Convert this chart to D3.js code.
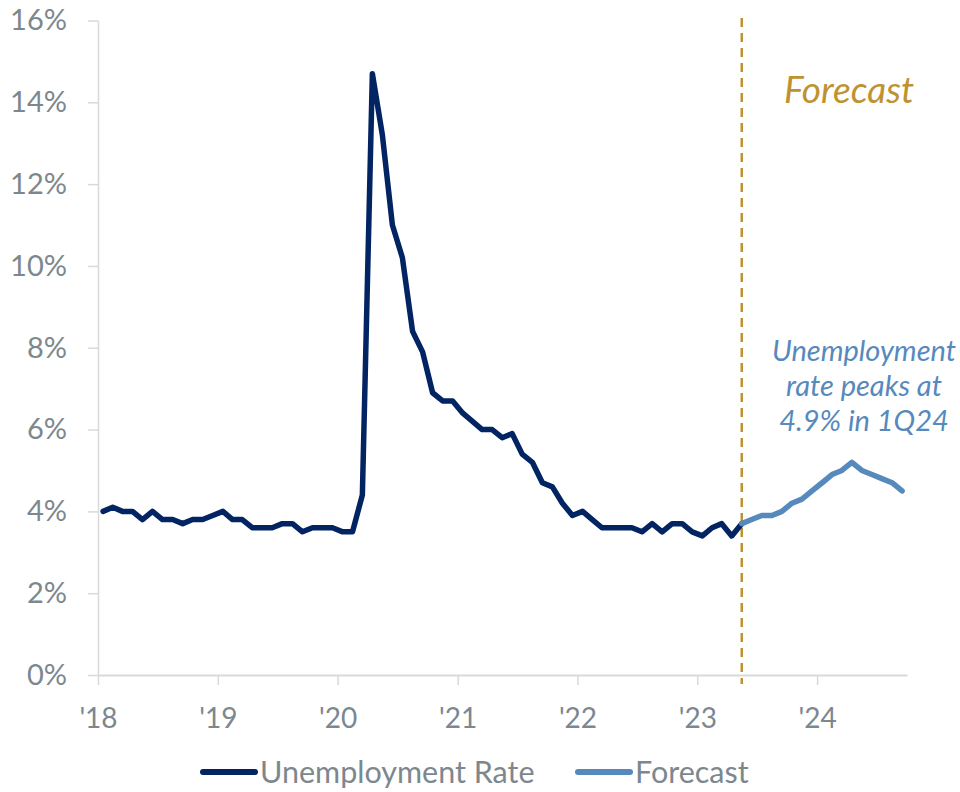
<!DOCTYPE html>
<html>
<head>
<meta charset="utf-8">
<script src="https://cdn.jsdelivr.net/npm/d3@7"></script>
<style>
  html, body { margin: 0; padding: 0; background: #ffffff; }
  svg { display: block; }
  text { font-family: Lato, "Open Sans", sans-serif; }
</style>
</head>
<body>
<svg id="chart" width="960" height="792"></svg>
<script>
// Monthly unemployment rate (%), Jan 2018 – May 2023
const actualStart = "2018-01";
const actualValues = [
  4.0, 4.1, 4.0, 4.0, 3.8, 4.0, 3.8, 3.8, 3.7, 3.8, 3.8, 3.9,
  4.0, 3.8, 3.8, 3.6, 3.6, 3.6, 3.7, 3.7, 3.5, 3.6, 3.6, 3.6,
  3.5, 3.5, 4.4, 14.7, 13.2, 11.0, 10.2, 8.4, 7.9, 6.9, 6.7, 6.7,
  6.4, 6.2, 6.0, 6.0, 5.8, 5.9, 5.4, 5.2, 4.7, 4.6, 4.2, 3.9,
  4.0, 3.8, 3.6, 3.6, 3.6, 3.6, 3.5, 3.7, 3.5, 3.7, 3.7, 3.5,
  3.4, 3.6, 3.7, 3.4, 3.7
];

// Forecast path (%), May 2023 – Sep 2024
const forecastStart = "2023-05";
const forecastValues = [
  3.7, 3.8, 3.9, 3.9, 4.0, 4.2, 4.3, 4.5,
  4.7, 4.9, 5.0, 5.2, 5.0, 4.9, 4.8, 4.7, 4.5
];

const yTicks = [0, 2, 4, 6, 8, 10, 12, 14, 16];
const yearTicks = ["2018", "2019", "2020", "2021", "2022", "2023", "2024"];
const seriesNames = ["Unemployment Rate", "Forecast"];
const forecastLabel = "Forecast";
const noteLines = ["Unemployment", "rate peaks at", "4.9% in 1Q24"];

const colors = { actual: "#022462", forecast: "#5689bc", divider: "#bf9231",
                 text: "#7d878e", axis: "#d9d9d9" };

const parseMonth = d3.timeParse("%Y-%m");
const toSeries = (start, values) => values.map((v, i) => ({
  month: d3.timeMonth.offset(parseMonth(start), i), value: v
}));
const actual = toSeries(actualStart, actualValues);
const forecast = toSeries(forecastStart, forecastValues);

const svg = d3.select("#chart");

const x = d3.scaleTime()
  .domain([parseMonth("2018-01"), parseMonth("2024-10")])
  .range([98, 907]);
const y = d3.scaleLinear().domain([0, 16]).range([675, 20.5]);

// points sit in the middle of their month
const xMid = m => (x(m) + x(d3.timeMonth.offset(m, 1))) / 2;

// y axis
const yAxis = svg.append("g")
  .attr("transform", `translate(${x.range()[0]},0)`)
  .call(d3.axisLeft(y).tickValues(yTicks).tickFormat(d => d + "%")
        .tickSize(10).tickSizeOuter(0).tickPadding(21));
yAxis.select(".domain").attr("stroke", colors.axis).attr("stroke-width", 1.5);
yAxis.selectAll(".tick line").attr("stroke", colors.axis).attr("stroke-width", 1.5);
yAxis.selectAll(".tick text").attr("fill", colors.text)
  .style("font-size", "29px").style("font-family", "Lato, sans-serif");

// x axis
const xAxis = svg.append("g")
  .attr("transform", `translate(0,${y(0)})`)
  .call(d3.axisBottom(x).tickValues(yearTicks.map(d => d3.timeParse("%Y")(d)))
        .tickFormat(d3.timeFormat("'%y")).tickSize(10).tickSizeOuter(0));
xAxis.select(".domain").attr("stroke", colors.axis).attr("stroke-width", 2);
xAxis.selectAll(".tick line").attr("stroke", colors.axis).attr("stroke-width", 1.5);
xAxis.selectAll(".tick text").attr("fill", colors.text)
  .attr("y", 53).attr("dy", 0)
  .style("font-size", "28px").style("font-family", "Lato, sans-serif");

// forecast divider
const divX = xMid(forecast[0].month);
svg.append("line")
  .attr("x1", divX).attr("x2", divX)
  .attr("y1", 18).attr("y2", 684)
  .attr("stroke", colors.divider).attr("stroke-width", 2.5)
  .attr("stroke-dasharray", "9,6");

const line = d3.line().x(d => xMid(d.month)).y(d => y(d.value));

svg.append("path").datum(actual)
  .attr("d", line).attr("fill", "none")
  .attr("stroke", colors.actual).attr("stroke-width", 5.5)
  .attr("stroke-linejoin", "round").attr("stroke-linecap", "round");

svg.append("path").datum(forecast)
  .attr("d", line).attr("fill", "none")
  .attr("stroke", colors.forecast).attr("stroke-width", 5.5)
  .attr("stroke-linejoin", "round").attr("stroke-linecap", "round");

// annotations
svg.append("text")
  .attr("x", 849).attr("y", 103)
  .attr("text-anchor", "middle")
  .attr("fill", colors.divider)
  .style("font-size", "37px").style("font-style", "italic")
  .text(forecastLabel);

svg.append("text")
  .attr("text-anchor", "middle")
  .attr("fill", colors.forecast)
  .style("font-size", "29px").style("font-style", "italic")
  .selectAll("tspan").data(noteLines).join("tspan")
  .attr("x", 864).attr("y", (d, i) => 361 + i * 35)
  .text(d => d);

// legend
const legend = svg.append("g");
const legendItems = [
  { name: seriesNames[0], color: colors.actual, x0: 203 },
  { name: seriesNames[1], color: colors.forecast, x0: 578 }
];
legendItems.forEach(it => {
  legend.append("line")
    .attr("x1", it.x0).attr("x2", it.x0 + 52)
    .attr("y1", 772).attr("y2", 772)
    .attr("stroke", it.color).attr("stroke-width", 6)
    .attr("stroke-linecap", "round");
  legend.append("text")
    .attr("x", it.x0 + 57).attr("y", 783)
    .attr("fill", colors.text)
    .style("font-size", "30.5px")
    .text(it.name);
});
</script>
</body>
</html>
